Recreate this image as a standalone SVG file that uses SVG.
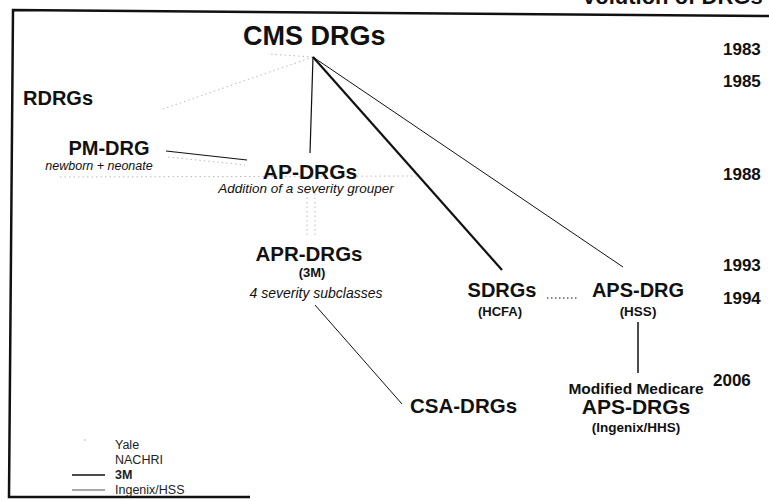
<svg xmlns="http://www.w3.org/2000/svg" width="769" height="501" viewBox="0 0 769 501">
<style>
  text { font-family: "Liberation Sans", Arial, sans-serif; fill: #111; }
  .b { font-weight: bold; }
  .i { font-style: italic; }
  .yr { font-weight: bold; font-size: 17px; }
  .leg { font-size: 12.5px; fill: #222; }
  .dark { stroke: #111; fill: none; }
  .faint { stroke: #bbb; fill: none; stroke-width: 1; stroke-dasharray: 1.5 3; }
</style>
<rect width="769" height="501" fill="#fff"/>
<g id="frame">
  <path d="M769 16 L13 10 L9 497 L250 497" fill="none" stroke="#111" stroke-width="2.5"/>
  <text x="583" y="4" class="b" font-size="22">volution of DRGs</text>
</g>
<g id="connectors">
  <line class="faint" x1="313" y1="57" x2="160" y2="110"/>
  <line class="faint" x1="313" y1="57" x2="268" y2="54"/>
  <line class="dark" x1="313" y1="57" x2="310" y2="153" stroke-width="1.2"/>
  <line class="dark" x1="313" y1="57" x2="502" y2="270" stroke-width="2.2"/>
  <line class="dark" x1="313" y1="57" x2="623" y2="267" stroke-width="1"/>
  <line class="dark" x1="166" y1="151" x2="247" y2="160" stroke-width="1.2"/>
  <line class="faint" x1="168" y1="157" x2="245" y2="165"/>
  <line class="faint" x1="60" y1="177" x2="420" y2="176"/>
  <line class="faint" x1="307" y1="193" x2="307" y2="237"/>
  <line class="faint" x1="315" y1="193" x2="315" y2="237"/>
  <line class="dark" x1="547" y1="298" x2="578" y2="298" stroke-width="1.2" stroke-dasharray="1.5 2.5"/>
  <line class="dark" x1="638" y1="322" x2="638" y2="373" stroke-width="1.5"/>
  <line class="dark" x1="315" y1="305" x2="402" y2="404" stroke-width="1"/>
</g>
<g id="cms-drgs"><text x="243" y="45" class="b" font-size="27">CMS DRGs</text></g>
<g id="rdrgs"><text x="23" y="105" class="b" font-size="20">RDRGs</text></g>
<g id="pm-drg">
  <text x="109" y="155" class="b" font-size="20" text-anchor="middle">PM-DRG</text>
  <text x="99" y="170" class="i" font-size="12.5" text-anchor="middle">newborn + neonate</text>
</g>
<g id="ap-drgs">
  <text x="310" y="179" class="b" font-size="21" text-anchor="middle">AP-DRGs</text>
  <text x="306" y="193" class="i" font-size="13.5" text-anchor="middle">Addition of a severity grouper</text>
</g>
<g id="apr-drgs">
  <text x="309" y="261" class="b" font-size="20.5" text-anchor="middle">APR-DRGs</text>
  <text x="312" y="277" class="b" font-size="13" text-anchor="middle">(3M)</text>
  <text x="316" y="298" class="i" font-size="14" text-anchor="middle">4 severity subclasses</text>
</g>
<g id="sdrgs">
  <text x="502" y="297" class="b" font-size="20" text-anchor="middle">SDRGs</text>
  <text x="500" y="316" class="b" font-size="13" text-anchor="middle">(HCFA)</text>
</g>
<g id="aps-drg">
  <text x="638" y="297" class="b" font-size="20" text-anchor="middle">APS-DRG</text>
  <text x="638" y="316" class="b" font-size="13.5" text-anchor="middle">(HSS)</text>
</g>
<g id="csa-drgs"><text x="410" y="413" class="b" font-size="20.5">CSA-DRGs</text></g>
<g id="modified-aps-drgs">
  <text x="636" y="394" class="b" font-size="15.5" text-anchor="middle">Modified Medicare</text>
  <text x="636" y="414" class="b" font-size="21" text-anchor="middle">APS-DRGs</text>
  <text x="636" y="432" class="b" font-size="13.5" text-anchor="middle">(Ingenix/HHS)</text>
</g>
<g id="years">
  <text x="723" y="55" class="yr">1983</text>
  <text x="723" y="87" class="yr">1985</text>
  <text x="723" y="180" class="yr">1988</text>
  <text x="723" y="271" class="yr">1993</text>
  <text x="723" y="304" class="yr">1994</text>
  <text x="713" y="386" class="yr">2006</text>
</g>
<g id="legend">
  <line x1="84" y1="440" x2="86" y2="440" stroke="#bbb" stroke-width="1"/>
  <text x="115" y="449" class="leg">Yale</text>
  <text x="115" y="464" class="leg">NACHRI</text>
  <line x1="72" y1="475" x2="105" y2="475" stroke="#111" stroke-width="1.4"/>
  <text x="115" y="479" class="leg b" font-size="12">3M</text>
  <line x1="72" y1="490" x2="105" y2="490" stroke="#444" stroke-width="0.9"/>
  <text x="115" y="494" class="leg" font-size="11.5">Ingenix/HSS</text>
</g>
</svg>
